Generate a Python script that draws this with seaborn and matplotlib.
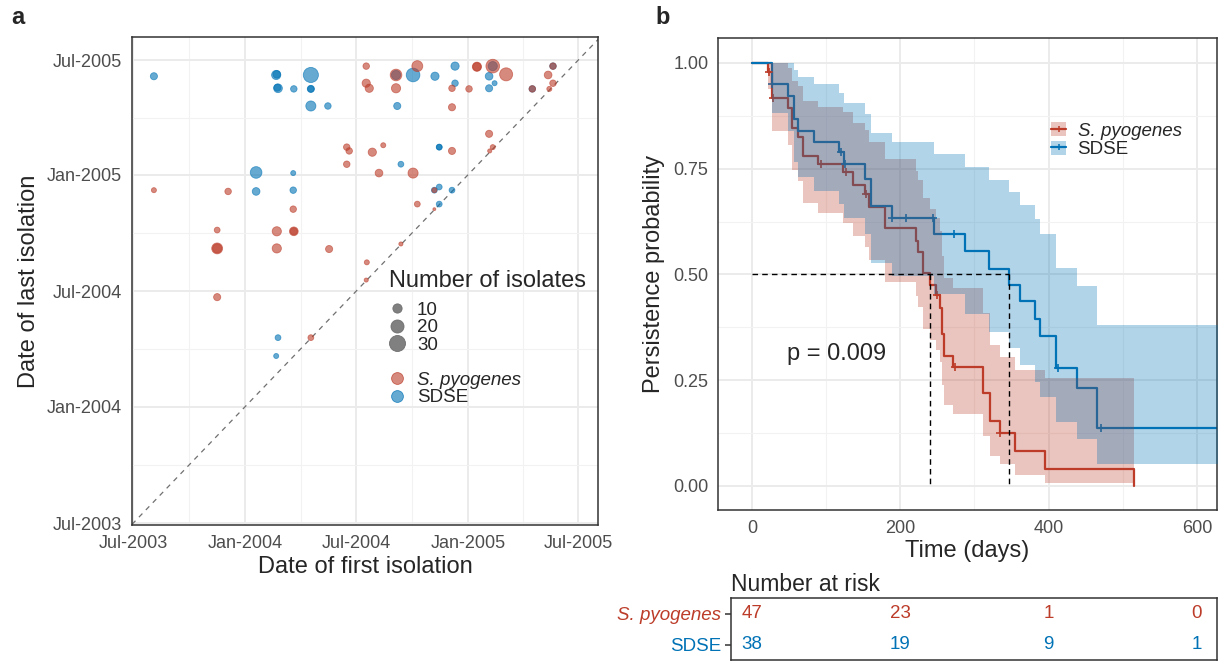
import numpy as np
import pandas as pd
import matplotlib
matplotlib.use("Agg")
import matplotlib.pyplot as plt
import matplotlib.dates as mdates
import seaborn as sns
from matplotlib.lines import Line2D
from matplotlib.patches import Patch
from matplotlib.colors import to_rgba

sns.set_style("white")
plt.rcParams['font.family'] = ['Liberation Sans', 'DejaVu Sans']

RED = '#BC3C29'
BLUE = '#0072B5'

# ---------------- Panel a data: (first isolation, last isolation, number of isolates)
sdse_first = ['2003-08-04', '2004-02-21', '2004-02-22', '2004-02-24', '2004-02-23', '2004-03-21',
              '2004-04-18', '2004-04-18', '2004-04-18', '2004-04-18', '2004-05-16', '2004-01-19',
              '2004-03-20', '2004-01-19', '2004-03-20', '2004-10-03', '2004-11-08', '2004-12-11',
              '2004-12-11', '2005-02-05', '2005-02-14', '2005-02-05', '2005-04-17', '2005-05-21',
              '2004-09-07', '2004-11-15', '2004-11-15', '2004-09-13', '2004-11-15', '2004-12-06',
              '2004-11-15', '2004-02-24', '2004-02-21', '2004-09-05', '2005-02-11', '2004-11-07']
sdse_last = ['2005-06-06', '2005-06-08', '2005-06-09', '2005-05-18', '2005-05-19', '2005-05-17',
             '2005-06-08', '2005-05-17', '2005-05-17', '2005-04-20', '2005-04-20', '2005-01-05',
             '2005-01-04', '2004-12-06', '2004-12-08', '2005-06-08', '2005-06-06', '2005-06-22',
             '2005-05-26', '2005-06-06', '2005-05-26', '2005-05-18', '2005-05-17', '2005-06-22',
             '2005-04-20', '2005-02-14', '2005-02-14', '2005-01-18', '2004-12-13', '2004-12-08',
             '2004-11-16', '2004-04-19', '2004-03-21', '2005-06-08', '2005-06-22', '2004-12-08']
sdse_n = [6, 10, 7, 9, 6, 5,
          27, 6, 5, 12, 5, 16,
          3, 7, 5, 22, 8, 8,
          5, 7, 3, 6, 5, 5,
          6, 4, 4, 4, 4, 4,
          4, 4, 3, 10, 10, 4]

spy_first = ['2004-07-18', '2004-07-18', '2004-07-23', '2004-06-16', '2004-06-20', '2004-06-16',
             '2004-07-28', '2003-08-04', '2003-12-04', '2004-03-20', '2004-09-05', '2004-09-05',
             '2004-10-10', '2004-12-06', '2005-01-03', '2005-01-16', '2005-01-16', '2005-02-11',
             '2005-03-05', '2005-05-13', '2005-05-21', '2005-05-21', '2005-05-15', '2005-04-17',
             '2004-12-06', '2004-08-15', '2004-12-06', '2005-02-05', '2005-02-11', '2005-02-06',
             '2004-08-08', '2004-10-03', '2004-11-07', '2004-10-10', '2004-11-07', '2003-11-16',
             '2004-02-22', '2004-03-21', '2004-03-21', '2003-11-16', '2003-11-16', '2004-02-22',
             '2004-05-18', '2004-07-19', '2004-07-18', '2003-11-16', '2004-04-18', '2004-09-13']
spy_last = ['2005-06-22', '2005-05-26', '2005-05-18', '2005-02-14', '2005-02-08', '2005-01-18',
            '2005-02-06', '2004-12-08', '2004-12-06', '2004-11-08', '2005-05-18', '2005-06-08',
            '2005-06-22', '2005-05-18', '2005-05-17', '2005-06-21', '2005-06-21', '2005-06-22',
            '2005-06-09', '2005-06-08', '2005-06-22', '2005-05-26', '2005-05-17', '2005-05-17',
            '2005-04-18', '2005-02-17', '2005-02-08', '2005-03-07', '2005-02-14', '2005-02-08',
            '2005-01-04', '2005-01-04', '2004-12-08', '2004-11-16', '2004-11-08', '2004-10-06',
            '2004-10-04', '2004-10-04', '2004-10-04', '2004-09-07', '2004-09-07', '2004-09-07',
            '2004-09-06', '2004-08-16', '2004-07-19', '2004-06-22', '2004-04-19', '2004-09-14']
spy_n = [5, 8, 8, 5, 5, 5,
         8, 3, 5, 5, 10, 16,
         14, 5, 5, 10, 8, 22,
         20, 7, 5, 5, 3, 5,
         6, 3, 6, 6, 3, 2,
         7, 12, 3, 4, 1, 4,
         10, 9, 6, 14, 10, 10,
         6, 3, 2, 6, 4, 2]

species_names = ['S. pyogenes', 'SDSE']
legend_sizes = [10, 20, 30]

# ---------------- Panel b data: Kaplan-Meier steps (time in days, survival, CI)
spy_t = [0, 21, 26.5, 49, 54, 62, 69, 89, 123, 136, 152, 158, 179, 221, 224, 230, 240, 248,
         253, 256, 259, 271, 311, 321, 334, 355, 395, 515]
spy_s = [1, .979, .917, .893, .846, .826, .780, .761, .741, .712, .690, .659, .609, .578, .554,
         .503, .475, .451, .420, .360, .306, .282, .220, .154, .125, .083, .040, 0]
spy_lo = [1, .939, .839, .807, .747, .722, .668, .645, .622, .590, .566, .534, .481, .449, .424,
          .372, .345, .321, .292, .238, .191, .170, .119, .071, .051, .025, .007]
spy_hi = [1, 1, 1, .988, .958, .945, .910, .897, .883, .859, .841, .814, .772, .744, .724,
          .680, .654, .633, .603, .544, .491, .469, .408, .334, .304, .275, .255]
spy_cens_t = [23, 29, 93, 127, 154, 250, 274, 335]
spy_cens_s = [.979, .917, .761, .741, .690, .451, .282, .125]

sdse_t = [0, 27, 49, 56, 62, 83, 118, 124, 152, 160, 189, 246, 287, 320, 347, 361, 381, 388,
          410, 438, 465]
sdse_s = [1, .950, .922, .868, .840, .814, .789, .761, .726, .662, .633, .595, .555, .512, .475,
          .436, .395, .355, .278, .231, .138]
sdse_lo = [1, .881, .840, .765, .730, .697, .666, .634, .596, .526, .497, .453, .406, .363, .325,
           .285, .246, .210, .150, .112, .051]
sdse_hi = [1, 1, 1, .984, .967, .950, .930, .905, .880, .835, .812, .784, .755, .724, .694,
           .663, .630, .595, .515, .472, .380]
sdse_end = 660
sdse_cens_t = [27, 120, 126, 189, 208, 244, 273, 413, 470]
sdse_cens_s = [.950, .789, .761, .633, .633, .633, .595, .278, .138]

median_t = [240, 347]
p_text = 'p = 0.009'

risk_times = [0, 200, 400, 600]
risk_spy = [47, 23, 1, 0]
risk_sdse = [38, 19, 9, 1]

# ---------------- figure
W, H = 1218, 661
fig = plt.figure(figsize=(W / 100, H / 100), dpi=100)

def frac(l, t, r, b):
    return [l / W, 1 - b / H, (r - l) / W, (b - t) / H]

TICKC = '#4D4D4D'
SPC = '#333333'
GRIDMAJ = '#EBEBEB'
GRIDMIN = '#F2F2F2'

def style_axes(ax):
    for sp in ax.spines.values():
        sp.set_visible(True)
        sp.set_color(SPC)
        sp.set_linewidth(1.1)
    ax.set_facecolor('white')
    ax.grid(True, which='major', color=GRIDMAJ, lw=1.4)
    ax.grid(True, which='minor', color=GRIDMIN, lw=0.8)
    ax.set_axisbelow(True)
    ax.tick_params(which='major', length=4, width=1, color=SPC, labelsize=13,
                   labelcolor=TICKC, direction='out', pad=3)
    ax.tick_params(which='minor', length=0)

SIZE_K = 4.4  # marker area (pt^2) per isolate

# ---- panel a
axA = fig.add_axes(frac(132, 37, 598, 525))
df = pd.DataFrame({
    'first': pd.to_datetime(sdse_first + spy_first),
    'last': pd.to_datetime(sdse_last + spy_last),
    'n': sdse_n + spy_n,
    'species': ['SDSE'] * len(sdse_n) + ['S. pyogenes'] * len(spy_n),
})
pal = {'S. pyogenes': RED, 'SDSE': BLUE}
sns.scatterplot(data=df, x='first', y='last', hue='species', size='n',
                sizes=(0, SIZE_K * 30), size_norm=(0, 30), palette=pal, alpha=0.6,
                edgecolor='face', linewidth=0.6, legend=False, ax=axA, zorder=3)
d0 = mdates.date2num(pd.Timestamp('2003-07-01'))
axA.axline((d0, d0), slope=1, ls=(0, (4, 4)), color='#707070', lw=0.9, zorder=2)
axA.set_xlim(pd.Timestamp('2003-06-29'), pd.Timestamp('2005-08-03'))
axA.set_ylim(pd.Timestamp('2003-06-28'), pd.Timestamp('2005-08-07'))
for axis in (axA.xaxis, axA.yaxis):
    axis.set_major_locator(mdates.MonthLocator(bymonth=[1, 7]))
    axis.set_minor_locator(mdates.MonthLocator(bymonth=[4, 10]))
    axis.set_major_formatter(mdates.DateFormatter('%b-%Y'))
style_axes(axA)
axA.set_xlabel('Date of first isolation', fontsize=17, labelpad=3)
axA.set_ylabel('Date of last isolation', fontsize=17, labelpad=5)

handles = [Line2D([], [], ls='', marker='o', ms=np.sqrt(SIZE_K * n), mfc='#808080',
                  mec='#6E6E6E', mew=0.6) for n in legend_sizes]
handles.append(Line2D([], [], ls='', marker=''))
handles += [Line2D([], [], ls='', marker='o', ms=8.5, mfc=to_rgba(c, 0.6), mec=to_rgba(c, 0.75),
                   mew=0.6) for c in (RED, BLUE)]
labels = [str(n) for n in legend_sizes] + [' '] + species_names
legA = axA.legend(handles, labels, title='Number of isolates', loc='upper left',
                  bbox_to_anchor=(0.551, 0.523), frameon=False, fontsize=13.5,
                  title_fontsize=17, labelspacing=0.02, handletextpad=0.6,
                  handlelength=0.9, borderaxespad=0, borderpad=0)
legA._legend_box.align = 'left'
legA._legend_box.sep = 7
legA.get_texts()[4].set_fontstyle('italic')

# ---- panel b
axB = fig.add_axes(frac(718, 38, 1217, 510))
# lines (under the bands)
sns.lineplot(x=spy_t, y=spy_s, drawstyle='steps-post', estimator=None, sort=False,
             color=RED, lw=1.6, ax=axB, zorder=2)
sns.lineplot(x=sdse_t + [sdse_end], y=sdse_s + [sdse_s[-1]], drawstyle='steps-post',
             estimator=None, sort=False, color=BLUE, lw=1.6, ax=axB, zorder=2)
axB.plot(spy_cens_t, spy_cens_s, ls='', marker='+', ms=5.5, mew=1.2, color=RED, zorder=2)
axB.plot(sdse_cens_t, sdse_cens_s, ls='', marker='+', ms=5.5, mew=1.2, color=BLUE, zorder=2)
# confidence bands
axB.fill_between(spy_t[:-1] + [spy_t[-1]], spy_lo + [spy_lo[-1]], spy_hi + [spy_hi[-1]],
                 step='post', color=RED, alpha=0.3, lw=0, zorder=3)
axB.fill_between(sdse_t + [sdse_end], sdse_lo + [sdse_lo[-1]], sdse_hi + [sdse_hi[-1]],
                 step='post', color=BLUE, alpha=0.3, lw=0, zorder=3)
# medians
axB.plot([0, max(median_t)], [0.5, 0.5], ls=(0, (4, 3)), color='black', lw=1.0, zorder=4)
for m in median_t:
    axB.plot([m, m], [0.5, 0], ls=(0, (4, 3)), color='black', lw=1.0, zorder=4)
axB.text(47, 0.312, p_text, fontsize=17, ha='left', va='center', zorder=5)

axB.set_xlim(-45.8, 627)
axB.set_ylim(-0.057, 1.059)
axB.set_xticks([0, 200, 400, 600])
axB.set_xticks([100, 300, 500], minor=True)
axB.set_yticks([0, 0.25, 0.5, 0.75, 1.0])
axB.set_yticks([0.125, 0.375, 0.625, 0.875], minor=True)
axB.set_yticklabels(['0.00', '0.25', '0.50', '0.75', '1.00'])
style_axes(axB)
axB.set_xlabel('Time (days)', fontsize=17, labelpad=2)
axB.set_ylabel('Persistence probability', fontsize=17, labelpad=6)

hB = [(Patch(facecolor=to_rgba(c, 0.3), edgecolor='none'),
       Line2D([], [], color=c, lw=1.6, marker='+', ms=5, mew=1.1)) for c in (RED, BLUE)]
legB = axB.legend(hB, species_names, loc='upper left', bbox_to_anchor=(0.668, 0.822),
                  frameon=False, fontsize=13.5, handlelength=0.8, handleheight=0.8,
                  labelspacing=0.05, handletextpad=0.6, borderaxespad=0, borderpad=0)
legB.get_texts()[0].set_fontstyle('italic')

# ---- risk table
axT = fig.add_axes(frac(731, 598, 1217, 660))
for sp in axT.spines.values():
    sp.set_color(SPC)
    sp.set_linewidth(1.1)
axT.set_facecolor('white')
axT.set_xlim(-28.3, 627)
axT.set_ylim(1.5, -0.5)
for t, a, b in zip(risk_times, risk_spy, risk_sdse):
    axT.text(t, 0, str(a), color=RED, fontsize=13.5, ha='center', va='center')
    axT.text(t, 1, str(b), color=BLUE, fontsize=13.5, ha='center', va='center')
axT.set_xticks([])
axT.set_yticks([0, 1])
axT.set_yticklabels(species_names, fontsize=13.5)
axT.tick_params(axis='y', which='major', left=True, length=4, width=1.1, color=SPC, pad=3)
yl = axT.get_yticklabels()
yl[0].set_color(RED)
yl[0].set_fontstyle('italic')
yl[1].set_color(BLUE)
axT.set_title('Number at risk', loc='left', fontsize=16.5, pad=5)

fig.text(18 / W, 1 - 18 / H, 'a', fontsize=17, fontweight='bold', ha='center', va='center')
fig.text(663 / W, 1 - 18 / H, 'b', fontsize=17, fontweight='bold', ha='center', va='center')

fig.savefig('out.png', dpi=100)
